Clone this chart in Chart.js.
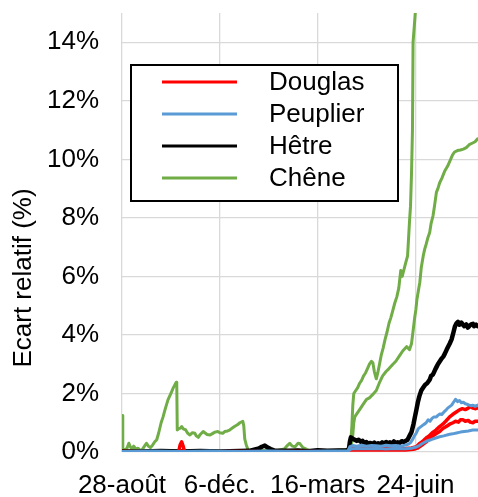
<!DOCTYPE html>
<html>
<head>
<meta charset="utf-8">
<script src="https://cdn.jsdelivr.net/npm/chart.js@4/dist/chart.umd.min.js"></script>
<style>
  html, body { margin: 0; padding: 0; background: #fff; }
  #c { display: block; }
</style>
</head>
<body>
<canvas id="c" width="478" height="497"></canvas>
<script>
// Jours depuis le 28 août et graduations de l'axe des dates
const tickDays = [0, 100, 200, 300];
const tickLabels = ['28-août', '6-déc.', '16-mars', '24-juin'];
const yTicks = [0, 2, 4, 6, 8, 10, 12, 14];
const especes = ['Douglas', 'Peuplier', 'Hêtre', 'Chêne'];
const couleurs = ['#ff0000', '#5b9bd5', '#000000', '#70ad47'];
const yTitre = 'Ecart relatif (%)';

// Séries [jour, écart relatif en %]
const douglas1 = [[0,0.02],[30,0.01],[58,0.02],[59.5,0.25],[61,0.35],[62.5,0.2],[64,0.02],[90,0.01],[120,0.02],[150,0.01],[180,0.02],[210,0.01],[231,0.02],[233,0.12],[240,0.1],[250,0.12],[260,0.1],[270,0.11],[280,0.1],[290,0.12],[296,0.14],[301,0.18],[304,0.28],[307,0.35],[311,0.48],[314,0.55],[317,0.65],[321,0.75],[324.8,0.87],[328,0.95],[331,1.05],[335,1.2],[338,1.28],[341,1.35],[345,1.44],[348,1.48],[351,1.45],[354,1.5],[356,1.55],[359,1.5],[361,1.48],[363.6,1.5]];
const douglas2 = [[0,0.01],[60,0.01],[120,0.01],[180,0.01],[231,0.01],[233,0.08],[250,0.07],[270,0.08],[290,0.07],[298,0.09],[302,0.13],[306,0.22],[311,0.35],[315,0.45],[318,0.55],[321,0.62],[324.8,0.7],[328,0.8],[332,0.88],[335,0.95],[338.4,1.0],[341,1.05],[344,1.02],[346,1.1],[348.6,1.1],[351,1.05],[354,1.08],[356,1.02],[358.8,1.0],[361,1.05],[363.6,1.05]];
const peuplier1 = [[0,0.02],[30,0.03],[60,0.02],[90,0.03],[120,0.02],[150,0.03],[180,0.02],[210,0.03],[231,0.03],[233,0.18],[236,0.22],[240,0.2],[245,0.23],[250,0.2],[255,0.22],[260,0.21],[265,0.2],[270,0.23],[275,0.21],[280,0.22],[285,0.2],[290,0.24],[293,0.27],[295,0.32],[297,0.42],[299,0.55],[301,0.65],[303,0.8],[305,0.85],[307,0.9],[309,0.95],[311,1.0],[313,1.1],[315,1.05],[317,1.15],[319,1.2],[321.5,1.2],[323,1.25],[325,1.3],[327,1.28],[329,1.36],[331.5,1.44],[333,1.5],[335,1.55],[337,1.6],[339,1.7],[341,1.8],[343,1.72],[345,1.76],[347,1.68],[349,1.7],[351,1.65],[353,1.63],[355,1.6],[357,1.58],[359,1.6],[361,1.56],[363.6,1.6]];
const peuplier2 = [[0,0.01],[60,0.02],[120,0.01],[180,0.02],[231,0.02],[234,0.1],[240,0.12],[250,0.11],[260,0.12],[270,0.1],[280,0.12],[290,0.11],[296,0.13],[300,0.16],[304,0.22],[307.5,0.3],[312,0.38],[316,0.42],[320,0.47],[324.8,0.52],[329,0.55],[334,0.6],[338,0.62],[342,0.65],[346,0.68],[350,0.7],[354,0.72],[358.8,0.75],[363.6,0.75]];
const hetre = [[0,0.02],[20,0.02],[40,0.03],[60,0.02],[80,0.03],[100,0.02],[120,0.03],[130,0.04],[135,0.08],[140,0.12],[143,0.18],[146,0.22],[149,0.15],[152,0.1],[156,0.05],[170,0.04],[180,0.05],[190,0.03],[200,0.06],[210,0.04],[220,0.05],[230,0.06],[232,0.1],[233,0.35],[234,0.5],[236,0.45],[238,0.42],[240,0.38],[242,0.42],[244,0.35],[246,0.38],[248,0.3],[250,0.34],[252,0.28],[254,0.31],[256,0.27],[258,0.32],[260,0.26],[262,0.3],[264,0.27],[266,0.33],[268,0.29],[270,0.34],[272,0.3],[274,0.33],[276,0.28],[278,0.36],[280,0.3],[282,0.33],[284,0.31],[286,0.37],[288,0.34],[290,0.38],[292,0.42],[294,0.55],[296,0.68],[298,0.95],[299.5,1.2],[301,1.44],[302.5,1.7],[304,1.9],[306,2.1],[308,2.2],[310,2.3],[312,2.35],[314.6,2.47],[316,2.6],[318,2.65],[320,2.8],[321.5,2.9],[323,3.0],[325,3.1],[327,3.2],[328.5,3.26],[330,3.35],[332,3.5],[335,3.7],[337,3.85],[339,4.1],[340.5,4.3],[342,4.4],[343.5,4.45],[345,4.35],[347,4.42],[348.6,4.35],[350,4.3],[352,4.36],[353.7,4.25],[355,4.3],[357,4.36],[358.8,4.38],[360,4.3],[362,4.35],[363.6,4.3]];
const chene1 = [[0,1.25],[0.8,0.05],[3,0.08],[5,0.12],[7,0.3],[8.5,0.18],[10,0.1],[12,0.2],[14,0.1],[16.5,0.13],[19,0.04],[21,0.1],[23,0.2],[25,0.3],[27,0.2],[29,0.15],[31,0.22],[33.5,0.35],[35.5,0.42],[37.5,0.65],[40,1.0],[42,1.2],[44,1.45],[47,1.78],[50,2.0],[52.5,2.2],[55.5,2.38],[56,2.3],[56.5,0.75],[58,0.8],[60,0.82],[61,0.87],[63,0.78],[65,0.76],[67,0.65],[69.5,0.58],[72,0.66],[74.5,0.64],[76,0.55],[78,0.5],[80,0.6],[83,0.7],[85,0.65],[87,0.6],[90,0.58],[92,0.62],[95,0.68],[98,0.7],[100,0.66],[103,0.64],[105,0.7],[108,0.72],[110,0.75],[112,0.8],[115,0.87],[118,0.93],[120.5,1.0],[123.5,1.05],[124.5,0.9],[125.5,0.45],[127,0.25],[129,0.06],[133,0.04],[140,0.05],[150,0.04],[160,0.05],[170,0.04],[180,0.06],[190,0.03],[200,0.05],[210,0.04],[220,0.05],[230,0.06],[232,0.08],[233.5,0.2],[235,0.85],[236,1.6],[237,2.0],[239,2.1],[241,2.2],[243,2.35],[245,2.45],[247,2.6],[249,2.7],[251,2.85],[253,3.0],[255,3.1],[256.5,3.05],[258,2.75],[260,2.5],[261.5,2.7],[263,2.95],[265,3.3],[267,3.55],[269,3.85],[271,4.1],[273,4.4],[275,4.6],[277,4.85],[279,5.1],[281,5.3],[283,5.6],[285,6.2],[286.5,6.0],[288,6.2],[290,6.45],[292,6.7],[293,7.3],[294,7.9],[295,8.4],[296,9.5],[297,11.0],[297.6,14.0],[299,14.6],[300.5,15.3],[301.5,16.5]];
const chene2 = [[0,0.03],[10,0.04],[20,0.03],[30,0.05],[40,0.03],[50,0.04],[60,0.03],[70,0.04],[80,0.03],[90,0.05],[100,0.04],[110,0.03],[120,0.04],[130,0.05],[140,0.04],[150,0.05],[160,0.06],[166,0.1],[169,0.22],[171.5,0.3],[174,0.2],[177,0.18],[180,0.3],[182,0.28],[185,0.15],[188.5,0.1],[192,0.05],[200,0.04],[210,0.05],[220,0.06],[228,0.08],[232,0.1],[234,0.2],[235.5,0.4],[237,1.0],[238,1.2],[240,1.3],[243,1.45],[246,1.6],[250,1.8],[253,1.85],[256,1.95],[260,2.1],[263,2.35],[266.5,2.6],[270,2.75],[273,2.85],[277,3.0],[280,3.1],[284,3.3],[287,3.45],[291,3.6],[294,3.5],[296,3.7],[297.5,4.1],[299.3,4.6],[300.5,4.87],[301.5,5.2],[303,5.5],[304.5,5.8],[306,6.3],[308,6.7],[309.5,6.93],[311,7.1],[313,7.35],[314.6,7.5],[316,7.8],[318,8.07],[319.5,8.4],[321.5,8.88],[323,9.0],[324.8,9.2],[327,9.35],[330,9.6],[333,9.77],[336,10.0],[338,10.15],[340,10.25],[343,10.3],[346,10.32],[349,10.35],[352,10.4],[355,10.5],[358,10.55],[361,10.6],[363.6,10.7]];

const FONT = '"Liberation Sans", Arial, sans-serif';

function serie(pts, idx, width) {
  return {
    label: especes[idx],
    data: pts.map(([x, y]) => ({ x, y })),
    borderColor: couleurs[idx],
    backgroundColor: couleurs[idx],
    borderWidth: width,
    pointRadius: 0,
    tension: 0,
    fill: false,
    borderJoinStyle: 'round',
    borderCapStyle: 'round'
  };
}

// Légende encadrée dans la zone de tracé + titre de l'axe vertical
const decor = {
  id: 'decor',
  afterDatasetsDraw(chart) {
    const { ctx, chartArea } = chart;
    const bx = chartArea.left + 9, by = chartArea.top + 52, bw = 267, bh = 136;
    ctx.save();
    ctx.fillStyle = '#fff';
    ctx.fillRect(bx, by, bw, bh);
    ctx.strokeStyle = '#000';
    ctx.lineWidth = 2;
    ctx.strokeRect(bx, by, bw, bh);
    ctx.font = '26px ' + FONT;
    ctx.textBaseline = 'middle';
    ctx.textAlign = 'left';
    especes.forEach((nom, i) => {
      const y = by + 17 + i * 32;
      ctx.strokeStyle = couleurs[i];
      ctx.lineWidth = 3;
      ctx.beginPath();
      ctx.moveTo(bx + 31, y);
      ctx.lineTo(bx + 106, y);
      ctx.stroke();
      ctx.fillStyle = '#000';
      ctx.fillText(nom, bx + 138, y + 1);
    });
    ctx.restore();
  },
  afterDraw(chart) {
    const { ctx } = chart;
    ctx.save();
    ctx.translate(24, 278);
    ctx.rotate(-Math.PI / 2);
    ctx.font = '26px ' + FONT;
    ctx.fillStyle = '#000';
    ctx.textAlign = 'center';
    ctx.textBaseline = 'middle';
    ctx.fillText(yTitre, 0, 0);
    ctx.restore();
  }
};

new Chart(document.getElementById('c'), {
  type: 'line',
  data: {
    datasets: [
      serie(peuplier2, 1, 3),
      serie(peuplier1, 1, 3),
      serie(douglas2, 0, 3.5),
      serie(douglas1, 0, 3.5),
      serie(hetre, 2, 4.5),
      serie(chene2, 3, 3),
      serie(chene1, 3, 3)
    ]
  },
  options: {
    responsive: false,
    devicePixelRatio: 1,
    animation: false,
    events: [],
    layout: { padding: { top: 13, right: 0, left: 0, bottom: 0 } },
    plugins: { legend: { display: false }, tooltip: { enabled: false } },
    scales: {
      x: {
        type: 'linear',
        min: 0,
        max: 364,
        bounds: 'data',
        afterBuildTicks(scale) { scale.ticks = tickDays.map(v => ({ value: v })); },
        afterFit(scale) {
          scale.height = 45;
          scale.paddingLeft = 0;
          scale.paddingRight = 0;
        },
        grid: { color: '#d9d9d9', lineWidth: 1.3, drawTicks: false },
        border: { display: false },
        ticks: {
          padding: 18,
          maxRotation: 0,
          autoSkip: false,
          color: '#000',
          font: { family: FONT, size: 26 },
          callback: (v) => tickLabels[tickDays.indexOf(v)]
        }
      },
      y: {
        min: 0,
        max: 15,
        bounds: 'data',
        afterBuildTicks(scale) { scale.ticks = yTicks.map(v => ({ value: v })); },
        afterFit(scale) {
          scale.width = 122;
          scale.paddingTop = 0;
          scale.paddingBottom = 0;
        },
        grid: { color: '#d9d9d9', lineWidth: 1.3, drawTicks: false },
        border: { display: false },
        ticks: {
          padding: 23,
          color: '#000',
          font: { family: FONT, size: 26 },
          callback: (v) => v + '%'
        }
      }
    }
  },
  plugins: [decor]
});
</script>
</body>
</html>
